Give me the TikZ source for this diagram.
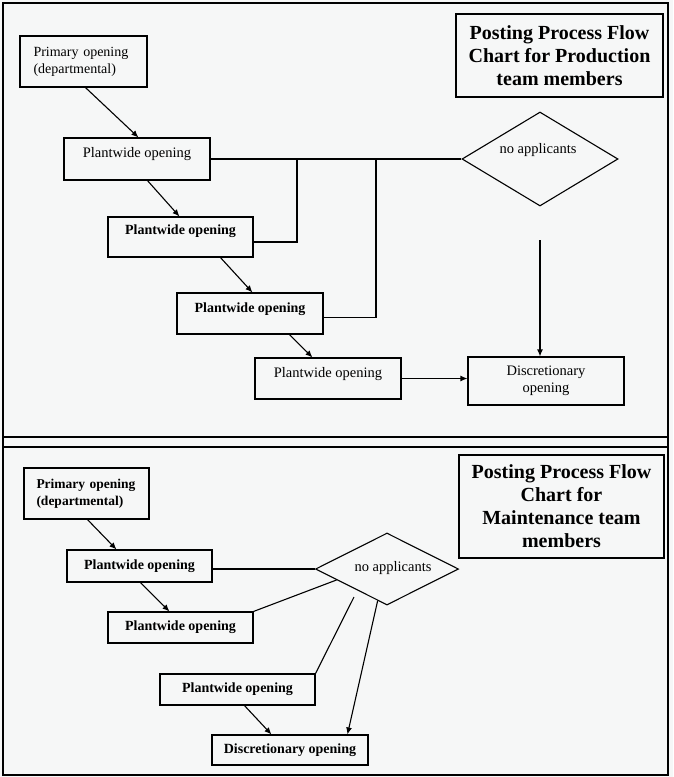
\documentclass[tikz,border=0pt]{standalone}
\usepackage{fontspec}
\setmainfont{Liberation Serif}
\usetikzlibrary{shapes.geometric,arrows.meta,calc}
\definecolor{paper}{RGB}{246,247,247}
\begin{document}
\begin{tikzpicture}[x=1pt,y=-1pt,
  box/.style={draw, line width=1.1pt, inner sep=0pt, align=center},
  txt/.style={font=\fontsize{14.5}{17.5}\selectfont},
  btxt/.style={font=\fontsize{14}{17}\selectfont\bfseries},
  ttl/.style={draw, line width=1.1pt, inner sep=0pt, align=center, font=\fontsize{20}{23}\selectfont\bfseries},
  dia/.style={draw, diamond, line width=1.1pt, inner sep=0pt},
  conn/.style={line width=1.1pt},
  arr/.style={line width=1.1pt, -{Latex[length=7pt,width=6pt]}}]
\fill[paper] (0,0) rectangle (673,777);
\useasboundingbox (0,0) rectangle (673,777);
% frame and separator
\draw[line width=1.5pt] (3,3) rectangle (668,775);
\draw[line width=1.3pt] (3,437) -- (668,437);
\draw[line width=1.3pt] (3,447) -- (668,447);

% ---------- top panel ----------
\node[ttl, minimum width=207, minimum height=83] (title1) at (559.5,55.5)
  {Posting Process Flow\\Chart for Production\\team members};
\node[box, font=\fontsize{14}{17}\selectfont, minimum height=51, text width=100, inner xsep=13.5pt, align=left] (prim1) at (83.5,61.5)
  {Primary opening\\(departmental)};
\node[box, txt, minimum width=146, text height=19pt, text depth=23pt] (pw1) at (137,159) {Plantwide opening};
\node[box, btxt, minimum width=145, text height=17pt, text depth=23pt] (pw2) at (180.5,237) {Plantwide opening};
\node[box, btxt, minimum width=146, text height=19pt, text depth=22pt] (pw3) at (250,313.5) {Plantwide opening};
\node[box, txt, minimum width=146, text height=19pt, text depth=22pt] (pw4) at (328,378.5) {Plantwide opening};
\node[box, txt, minimum width=156, minimum height=48] (disc1) at (546,381) {Discretionary\\opening};
\node[dia, minimum width=156, minimum height=94] (d1) at (540,159) {};
\node[txt] (d1t) at (538,150) {no applicants};

\coordinate (j1) at (297,159);
\coordinate (j2) at (376,159);
\coordinate (c1) at (540,240);

\draw[arr] ([xshift=66]prim1.south west) -- ([xshift=75]pw1.north west);
\draw[arr] ([xshift=84]pw1.south west) -- ([xshift=72]pw2.north west);
\draw[arr] ([xshift=113]pw2.south west) -- ([xshift=76]pw3.north west);
\draw[arr] ([xshift=113]pw3.south west) -- ([xshift=58]pw4.north west);
\draw[conn] (pw1.east) -- (d1.west);
\draw[conn] ([yshift=-5pt]pw2.east) -| (j1);
\draw[conn] ([yshift=-4pt]pw3.east) -| (j2);
\draw[arr] (c1) -- (c1 |- disc1.north);
\draw[arr] (pw4.east) -- (pw4.east -| disc1.west);

% ---------- bottom panel ----------
\node[ttl, minimum width=205, minimum height=103] (title2) at (561.5,506.5)
  {Posting Process Flow\\Chart for\\Maintenance team\\members};
\node[box, font=\fontsize{13.5}{17}\selectfont\bfseries, minimum height=51, text width=100, inner xsep=12.5pt, align=left] (primB) at (86.5,493.5)
  {Primary opening\\(departmental)};
\node[box, btxt, minimum width=145, minimum height=32] (pwB1) at (139.5,566) {Plantwide opening};
\node[dia, minimum width=143, minimum height=72] (dB) at (387,569) {};
\node[txt] (dBt) at (393,568) {no applicants};
\node[box, btxt, minimum width=145, minimum height=31] (pwB2) at (180.5,627.5) {Plantwide opening};
\node[box, btxt, minimum width=155, minimum height=31] (pwB3) at (237.5,689.5) {Plantwide opening};
\node[box, btxt, minimum width=156, minimum height=30] (discB) at (290,750) {Discretionary opening};

\coordinate (g1) at (354,597);

\draw[arr] ([xshift=64]primB.south west) -- ([xshift=50]pwB1.north west);
\draw[conn] ([yshift=-3pt]pwB1.east) -- (dB.west);
\draw[arr] ([xshift=74]pwB1.south west) -- ([xshift=62]pwB2.north west);
\draw[conn] (pwB2.north east) -- ($(dB.west)!0.3!(dB.south)$);
\draw[conn] (g1) -- (pwB3.north east);
\draw[arr] ($(dB.west)!0.87!(dB.south)$) -- ([xshift=136]discB.north west);
\draw[arr] ([xshift=85]pwB3.south west) -- ([xshift=60]discB.north west);
\end{tikzpicture}
\end{document}
